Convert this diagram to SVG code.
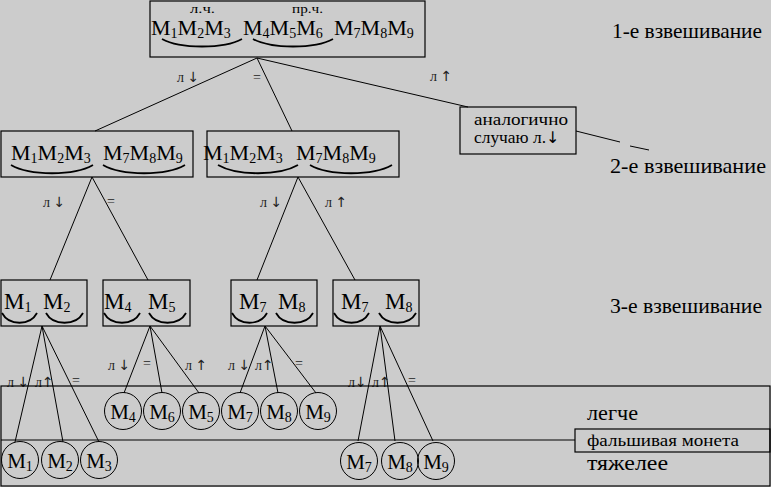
<svg xmlns="http://www.w3.org/2000/svg" width="771" height="487" viewBox="0 0 771 487">
<style>
text{font-family:"Liberation Serif","DejaVu Serif","Times New Roman",serif;fill:#000}
.m{font-size:22px}
.m3{font-size:23px}
.mc{font-size:21px}
.s{font-size:14px}
.lab{font-size:14px;fill:#222}
.ar{font-family:"DejaVu Sans",sans-serif;font-size:14px;fill:#222}
.big{font-size:22px}
.box{fill:none;stroke:#000;stroke-width:1.2}
.ln{fill:none;stroke:#000;stroke-width:1}
.br{fill:none;stroke:#000;stroke-width:1.8}
.c{fill:none;stroke:#000;stroke-width:1}
</style>
<rect x="0" y="0" width="771" height="487" fill="#cccccc"/>

<g id="connectors">
<line class="ln" x1="257" y1="58" x2="95" y2="131"/>
<line class="ln" x1="257" y1="58" x2="292" y2="131"/>
<line class="ln" x1="257" y1="58" x2="468" y2="107"/>
<line class="ln" x1="576" y1="131" x2="620" y2="142"/>
<line class="ln" x1="630" y1="146" x2="649" y2="150"/>
<line class="ln" x1="92" y1="177" x2="50" y2="280"/>
<line class="ln" x1="92" y1="177" x2="148" y2="280"/>
<line class="ln" x1="298" y1="177" x2="257" y2="280"/>
<line class="ln" x1="298" y1="177" x2="355" y2="280"/>
<line class="ln" x1="42" y1="326" x2="15" y2="442"/>
<line class="ln" x1="42" y1="326" x2="63" y2="442"/>
<line class="ln" x1="42" y1="326" x2="99" y2="442"/>
<line class="ln" x1="150" y1="326" x2="124" y2="393"/>
<line class="ln" x1="150" y1="326" x2="162" y2="393"/>
<line class="ln" x1="150" y1="326" x2="199" y2="393"/>
<line class="ln" x1="265" y1="326" x2="240" y2="393"/>
<line class="ln" x1="265" y1="326" x2="278" y2="393"/>
<line class="ln" x1="265" y1="326" x2="316" y2="393"/>
<line class="ln" x1="380" y1="326" x2="358" y2="441"/>
<line class="ln" x1="380" y1="326" x2="395" y2="441"/>
<line class="ln" x1="380" y1="326" x2="433" y2="441"/>
<text class="lab" x="177" y="82">л <tspan class="ar">↓</tspan></text>
<text class="lab" x="253" y="82">=</text>
<text class="lab" x="430" y="81">л <tspan class="ar">↑</tspan></text>
<text class="lab" x="43" y="207">л <tspan class="ar">↓</tspan></text>
<text class="lab" x="107" y="206">=</text>
<text class="lab" x="260" y="207">л <tspan class="ar">↓</tspan></text>
<text class="lab" x="325" y="207">л <tspan class="ar">↑</tspan></text>
<text class="lab" x="7" y="387">л <tspan class="ar">↓</tspan></text>
<text class="lab" x="35" y="387">л<tspan class="ar">↑</tspan></text>
<text class="lab" x="72" y="385">=</text>
<text class="lab" x="108" y="370">л <tspan class="ar">↓</tspan></text>
<text class="lab" x="143" y="368">=</text>
<text class="lab" x="185" y="370">л  <tspan class="ar">↑</tspan></text>
<text class="lab" x="228" y="370">л <tspan class="ar">↓</tspan></text>
<text class="lab" x="255" y="370">л<tspan class="ar">↑</tspan></text>
<text class="lab" x="295" y="368">=</text>
<text class="lab" x="348" y="387">л<tspan class="ar">↓</tspan></text>
<text class="lab" x="372" y="387">л<tspan class="ar">↑</tspan></text>
<text class="lab" x="408" y="385">=</text>
</g>

<g id="weigh1">
<rect class="box" x="150" y="1" width="275" height="56"/>
<text x="190" y="13" font-size="13" textLength="25" lengthAdjust="spacingAndGlyphs">л.ч.</text>
<text x="292" y="13" font-size="13" textLength="31" lengthAdjust="spacingAndGlyphs">пр.ч.</text>
<text class="m" x="151" y="35">M<tspan class="s" dy="3">1</tspan><tspan dy="-3">M</tspan><tspan class="s" dy="3">2</tspan><tspan dy="-3">M</tspan><tspan class="s" dy="3">3</tspan></text>
<text class="m" x="243" y="35">M<tspan class="s" dy="3">4</tspan><tspan dy="-3">M</tspan><tspan class="s" dy="3">5</tspan><tspan dy="-3">M</tspan><tspan class="s" dy="3">6</tspan></text>
<text class="m" x="334" y="35">M<tspan class="s" dy="3">7</tspan><tspan dy="-3">M</tspan><tspan class="s" dy="3">8</tspan><tspan dy="-3">M</tspan><tspan class="s" dy="3">9</tspan></text>
<path class="br" d="M162,39 C180,49 224,49 242,39"/>
<path class="br" d="M253,39 C271,49 315,49 333,39"/>
</g>

<g id="weigh2-left">
<rect class="box" x="1" y="131" width="192" height="46"/>
<text class="m" x="11" y="160">M<tspan class="s" dy="3">1</tspan><tspan dy="-3">M</tspan><tspan class="s" dy="3">2</tspan><tspan dy="-3">M</tspan><tspan class="s" dy="3">3</tspan></text>
<text class="m" x="103" y="160">M<tspan class="s" dy="3">7</tspan><tspan dy="-3">M</tspan><tspan class="s" dy="3">8</tspan><tspan dy="-3">M</tspan><tspan class="s" dy="3">9</tspan></text>
<path class="br" d="M11,165 C30,176 74,176 93,165"/>
<path class="br" d="M103,165 C122,176 166,176 185,165"/>
</g>

<g id="weigh2-right">
<rect class="box" x="207" y="131" width="192" height="46"/>
<text class="m" x="203" y="160">M<tspan class="s" dy="3">1</tspan><tspan dy="-3">M</tspan><tspan class="s" dy="3">2</tspan><tspan dy="-3">M</tspan><tspan class="s" dy="3">3</tspan></text>
<text class="m" x="296" y="160">M<tspan class="s" dy="3">7</tspan><tspan dy="-3">M</tspan><tspan class="s" dy="3">8</tspan><tspan dy="-3">M</tspan><tspan class="s" dy="3">9</tspan></text>
<path class="br" d="M218,165 C237,176 279,176 298,165"/>
<path class="br" d="M310,165 C329,176 373,176 392,165"/>
</g>

<g id="analog">
<rect class="box" x="460" y="107" width="116" height="47"/>
<text x="474" y="125" font-size="17" textLength="94" lengthAdjust="spacingAndGlyphs">аналогично</text>
<text x="474" y="143" font-size="17"><tspan textLength="72" lengthAdjust="spacingAndGlyphs">случаю л.</tspan><tspan font-family="DejaVu Sans" font-size="16">↓</tspan></text>
</g>

<g id="weigh3-a">
<rect class="box" x="1" y="280" width="86" height="46"/>
<text class="m3" x="4" y="309">M<tspan class="s" dy="3">1</tspan></text>
<text class="m3" x="43" y="309">M<tspan class="s" dy="3">2</tspan></text>
<path class="br" d="M2,313 C9,326 30,326 37,313"/>
<path class="br" d="M46,313 C53,326 76,326 83,313"/>
</g>
<g id="weigh3-b">
<rect class="box" x="103" y="280" width="87" height="46"/>
<text class="m3" x="104" y="309">M<tspan class="s" dy="3">4</tspan></text>
<text class="m3" x="148" y="309">M<tspan class="s" dy="3">5</tspan></text>
<path class="br" d="M104,313 C111,326 133,326 140,313"/>
<path class="br" d="M149,313 C156,326 179,326 186,313"/>
</g>
<g id="weigh3-c">
<rect class="box" x="231" y="280" width="86" height="46"/>
<text class="m3" x="239" y="309">M<tspan class="s" dy="3">7</tspan></text>
<text class="m3" x="278" y="309">M<tspan class="s" dy="3">8</tspan></text>
<path class="br" d="M232,313 C239,326 260,326 267,313"/>
<path class="br" d="M276,313 C283,326 306,326 313,313"/>
</g>
<g id="weigh3-d">
<rect class="box" x="333" y="280" width="86" height="46"/>
<text class="m3" x="341" y="309">M<tspan class="s" dy="3">7</tspan></text>
<text class="m3" x="385" y="309">M<tspan class="s" dy="3">8</tspan></text>
<path class="br" d="M334,313 C341,326 362,326 369,313"/>
<path class="br" d="M379,313 C386,326 409,326 416,313"/>
</g>

<g id="bands">
<rect class="box" x="1" y="386" width="769" height="100"/>
<line class="ln" x1="1" y1="440" x2="575" y2="440"/>
<text class="big" x="587" y="420" textLength="51" lengthAdjust="spacingAndGlyphs">легче</text>
<text x="587" y="470" font-size="20" textLength="81" lengthAdjust="spacingAndGlyphs">тяжелее</text>
</g>
<g id="fake">
<rect class="box" x="575" y="429" width="195" height="23"/>
<text x="587" y="446" font-size="16" textLength="152" lengthAdjust="spacingAndGlyphs">фальшивая монета</text>
</g>

<g id="coins-light">
<circle class="c" cx="123" cy="411" r="18.5"/><text class="mc" x="123" y="419" text-anchor="middle">M<tspan class="s" dy="3">4</tspan></text>
<circle class="c" cx="162" cy="411" r="18.5"/><text class="mc" x="162" y="419" text-anchor="middle">M<tspan class="s" dy="3">6</tspan></text>
<circle class="c" cx="201" cy="411" r="18.5"/><text class="mc" x="201" y="419" text-anchor="middle">M<tspan class="s" dy="3">5</tspan></text>
<circle class="c" cx="240" cy="411" r="18.5"/><text class="mc" x="240" y="419" text-anchor="middle">M<tspan class="s" dy="3">7</tspan></text>
<circle class="c" cx="279" cy="411" r="18.5"/><text class="mc" x="279" y="419" text-anchor="middle">M<tspan class="s" dy="3">8</tspan></text>
<circle class="c" cx="318" cy="411" r="18.5"/><text class="mc" x="318" y="419" text-anchor="middle">M<tspan class="s" dy="3">9</tspan></text>
</g>
<g id="coins-heavy">
<circle class="c" cx="20" cy="460" r="18.5"/><text class="mc" x="20" y="468" text-anchor="middle">M<tspan class="s" dy="3">1</tspan></text>
<circle class="c" cx="60" cy="460" r="18.5"/><text class="mc" x="60" y="468" text-anchor="middle">M<tspan class="s" dy="3">2</tspan></text>
<circle class="c" cx="99" cy="460" r="18.5"/><text class="mc" x="99" y="468" text-anchor="middle">M<tspan class="s" dy="3">3</tspan></text>
<circle class="c" cx="359" cy="461" r="18.5"/><text class="mc" x="359" y="469" text-anchor="middle">M<tspan class="s" dy="3">7</tspan></text>
<circle class="c" cx="400" cy="461" r="18.5"/><text class="mc" x="400" y="469" text-anchor="middle">M<tspan class="s" dy="3">8</tspan></text>
<circle class="c" cx="436" cy="461" r="18.5"/><text class="mc" x="436" y="469" text-anchor="middle">M<tspan class="s" dy="3">9</tspan></text>
</g>

<g id="levels">
<text class="big" x="612" y="38" textLength="150" lengthAdjust="spacingAndGlyphs">1-е взвешивание</text>
<text class="big" x="610" y="173" textLength="156" lengthAdjust="spacingAndGlyphs">2-е взвешивание</text>
<text class="big" x="610" y="313" textLength="152" lengthAdjust="spacingAndGlyphs">3-е взвешивание</text>
</g>
</svg>
